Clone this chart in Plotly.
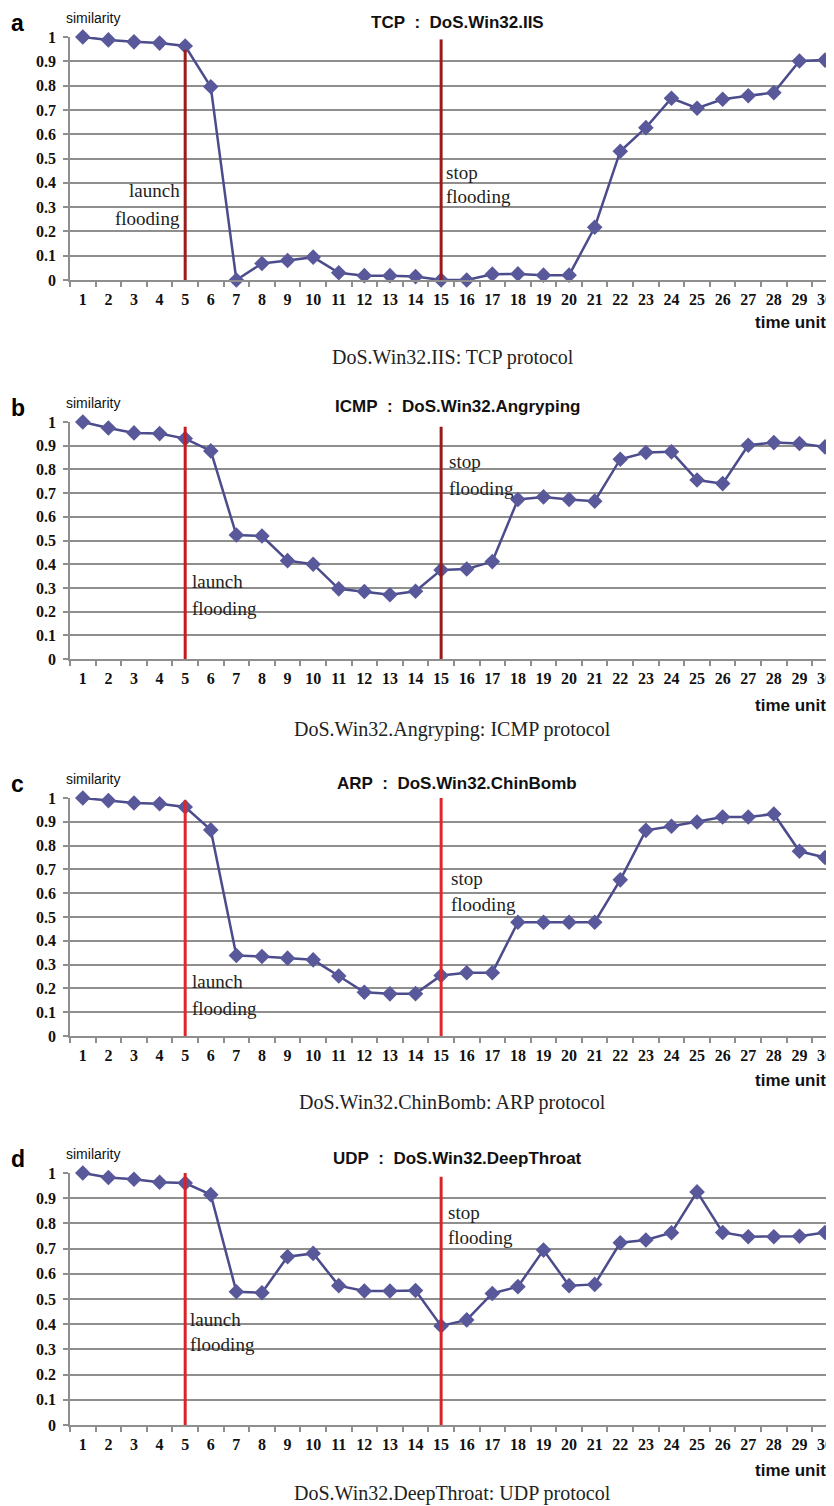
import plotly.graph_objects as go

# ---------------- data ----------------
time_units = [1, 2, 3, 4, 5, 6, 7, 8, 9, 10, 11, 12, 13, 14, 15,
              16, 17, 18, 19, 20, 21, 22, 23, 24, 25, 26, 27, 28, 29, 30]

tcp_iis = [1.0, 0.988, 0.98, 0.975, 0.963, 0.795, 0.0, 0.068, 0.08, 0.094,
           0.03, 0.018, 0.018, 0.014, 0.0, 0.0, 0.024, 0.025, 0.02, 0.02,
           0.217, 0.53, 0.627, 0.748, 0.707, 0.744, 0.758, 0.771, 0.901, 0.905]

icmp_angryping = [1.0, 0.975, 0.954, 0.951, 0.93, 0.878, 0.523, 0.519, 0.415, 0.40,
                  0.296, 0.285, 0.271, 0.286, 0.376, 0.38, 0.411, 0.673, 0.684, 0.673,
                  0.666, 0.843, 0.871, 0.874, 0.755, 0.74, 0.902, 0.913, 0.909, 0.895]

arp_chinbomb = [1.0, 0.989, 0.979, 0.976, 0.962, 0.866, 0.338, 0.334, 0.327, 0.32,
                0.252, 0.184, 0.177, 0.178, 0.254, 0.266, 0.266, 0.478, 0.478, 0.478,
                0.478, 0.656, 0.864, 0.881, 0.899, 0.92, 0.92, 0.933, 0.776, 0.75]

udp_deepthroat = [1.0, 0.982, 0.975, 0.963, 0.96, 0.914, 0.529, 0.525, 0.668, 0.681,
                  0.553, 0.532, 0.532, 0.534, 0.393, 0.417, 0.522, 0.549, 0.694, 0.553,
                  0.558, 0.723, 0.734, 0.763, 0.925, 0.764, 0.747, 0.747, 0.749, 0.764]

panel_letters = ["a", "b", "c", "d"]
panel_titles = ["TCP  :  DoS.Win32.IIS", "ICMP  :  DoS.Win32.Angryping",
                "ARP  :  DoS.Win32.ChinBomb", "UDP  :  DoS.Win32.DeepThroat"]
panel_captions = ["DoS.Win32.IIS: TCP protocol", "DoS.Win32.Angryping: ICMP protocol",
                  "DoS.Win32.ChinBomb: ARP protocol", "DoS.Win32.DeepThroat: UDP protocol"]
series = [tcp_iis, icmp_angryping, arp_chinbomb, udp_deepthroat]

launch_time = 5
stop_time = 15
launch_line_top = [0.947, 0.98, 0.99, 1.0]
stop_line_top = [0.99, 0.98, 1.0, 0.985]

y_tick_vals = [0, 0.1, 0.2, 0.3, 0.4, 0.5, 0.6, 0.7, 0.8, 0.9, 1.0]
y_tick_text = ["0", "0.1", "0.2", "0.3", "0.4", "0.5", "0.6", "0.7", "0.8", "0.9", "1"]

# ---------------- styling / layout ----------------
OFF = 8                      # page body margin
W, H = 834 - OFF, 1506 - OFF
# reference-pixel rows of y=1 and y=0 for each panel
panel_px = [(37, 280), (422, 659), (798, 1036), (1173, 1425)]
launch_colors = ["#9c1b1b", "#c41b20", "#e0262b", "#d9232a"]
stop_colors = ["#9a1a1a", "#981a1a", "#e0262b", "#d9232a"]
launch_text_y = [(0.370, 0.255), (0.327, 0.212), (0.229, 0.116), (0.417, 0.318)]
stop_text_y = [(0.444, 0.342), (0.832, 0.720), (0.663, 0.551), (0.842, 0.743)]
launch_text_side = ["left", "right", "right", "right"]
launch_shift = [-3, 5, 5, 3]
stop_shift = [3, 6, 8, 5]
caption_px = [357, 729, 1102, 1493]
timeunit_px = [323, 705, 1080, 1470]

line_color = "#4c4c8c"
marker_color = "#58589a"
grid_color = "#8e8e8e"
tick_font = dict(family="Liberation Serif", size=16, color="#111", weight="bold")


def py(px):
    return 1 - (px - OFF) / H


def pxx(px):
    return (px - OFF) / W


fig = go.Figure()
annotations = []
shapes = []

for i in range(4):
    n = "" if i == 0 else str(i + 1)
    xa, ya = "x" + n, "y" + n
    fig.add_trace(go.Scatter(
        x=time_units, y=series[i], xaxis=xa, yaxis=ya,
        mode="lines+markers",
        line=dict(color=line_color, width=2.5),
        marker=dict(symbol="diamond", size=12, color=marker_color),
        cliponaxis=False, showlegend=False, hoverinfo="skip"))

    top, bot = panel_px[i]
    fig.layout["xaxis" + n] = dict(
        domain=[pxx(70), 1], range=[0.5, 30.35], anchor=ya, automargin=False,
        tickmode="array", tickvals=time_units, ticktext=[str(t) for t in time_units],
        ticks="", showgrid=False, zeroline=False,
        showline=True, linecolor=grid_color, linewidth=1.5,
        tickfont=tick_font, ticklabelstandoff=4,
        minor=dict(tickmode="array", tickvals=[t - 0.5 for t in time_units],
                   ticks="outside", ticklen=5, tickwidth=1.5, tickcolor=grid_color,
                   showgrid=False),
        fixedrange=True)
    fig.layout["yaxis" + n] = dict(
        domain=[py(bot), py(top)], range=[0, 1], anchor=xa, automargin=False,
        tickmode="array", tickvals=y_tick_vals, ticktext=y_tick_text,
        ticks="outside", ticklen=5, tickwidth=1.5, tickcolor=grid_color,
        showgrid=True, gridcolor=grid_color, gridwidth=1.5, zeroline=False,
        showline=True, linecolor=grid_color, linewidth=1.5,
        tickfont=tick_font, ticklabelstandoff=4,
        fixedrange=True)

    shapes.append(dict(type="line", xref=xa, yref=ya, x0=launch_time, x1=launch_time,
                       y0=0, y1=launch_line_top[i], layer="above",
                       line=dict(color=launch_colors[i], width=3)))
    shapes.append(dict(type="line", xref=xa, yref=ya, x0=stop_time, x1=stop_time,
                       y0=0, y1=stop_line_top[i], layer="above",
                       line=dict(color=stop_colors[i], width=3)))

    serif = dict(family="Liberation Serif", size=19, color="#222")
    side = launch_text_side[i]
    for txt, yv in zip(["launch", "flooding"], launch_text_y[i]):
        annotations.append(dict(xref=xa, yref=ya, x=launch_time, y=yv, text=txt,
                                showarrow=False, xanchor=("right" if side == "left" else "left"),
                                yanchor="middle", xshift=launch_shift[i], font=serif))
    for txt, yv in zip(["stop", "flooding"], stop_text_y[i]):
        annotations.append(dict(xref=xa, yref=ya, x=stop_time, y=yv, text=txt,
                                showarrow=False, xanchor="left", yanchor="middle",
                                xshift=stop_shift[i], font=serif))

    # panel letter and y-axis name: box tops at (top - 29) reference px
    annotations.append(dict(xref="paper", yref="paper", x=pxx(9), y=py(top - 29),
                            text=panel_letters[i], showarrow=False, xanchor="left",
                            yanchor="top",
                            font=dict(family="Liberation Sans", size=23, color="#000",
                                      weight="bold")))
    annotations.append(dict(xref="paper", yref="paper", x=pxx(64), y=py(top - 29),
                            text="similarity", showarrow=False, xanchor="left",
                            yanchor="top",
                            font=dict(family="Liberation Sans", size=14, color="#111")))
    annotations.append(dict(xref="paper", yref="paper", x=pxx(457), y=py(top - 15),
                            text=panel_titles[i].replace(" ", "\u00a0"), showarrow=False,
                            xanchor="center", yanchor="middle",
                            font=dict(family="Liberation Sans", size=17, color="#111",
                                      weight="bold")))
    annotations.append(dict(xref="paper", yref="paper", x=pxx(828), y=py(timeunit_px[i]),
                            text="time unit", showarrow=False, xanchor="right",
                            yanchor="middle",
                            font=dict(family="Liberation Sans", size=17, color="#111",
                                      weight="bold")))
    annotations.append(dict(xref="paper", yref="paper", x=pxx(453), y=py(caption_px[i]),
                            text=panel_captions[i], showarrow=False, xanchor="center",
                            yanchor="middle",
                            font=dict(family="Liberation Serif", size=20, color="#222")))

fig.update_layout(width=W, height=H, margin=dict(l=0, r=0, t=0, b=0),
                  paper_bgcolor="white", plot_bgcolor="white",
                  annotations=annotations, shapes=shapes, showlegend=False)

fig.write_html("out.html")
